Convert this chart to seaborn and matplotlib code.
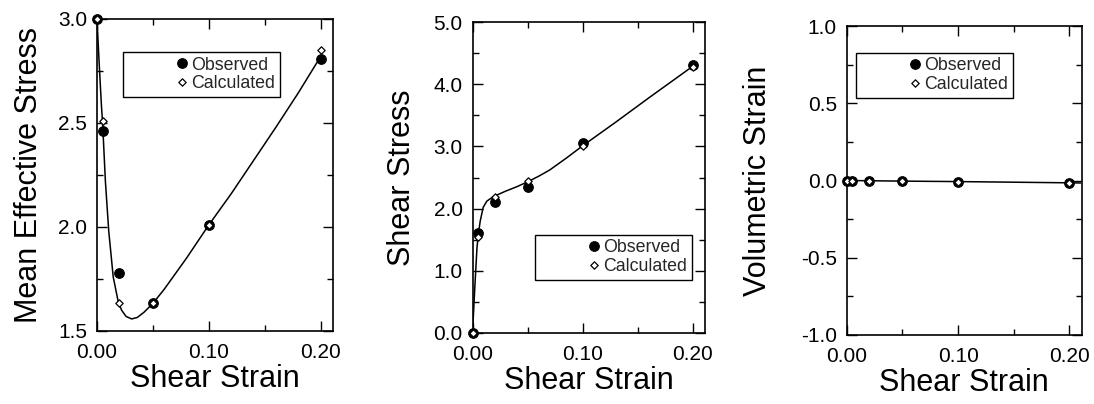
import numpy as np
import pandas as pd
import matplotlib
matplotlib.use("Agg")
import matplotlib.pyplot as plt
import seaborn as sns
from matplotlib.ticker import MultipleLocator, FormatStrFormatter

# ---------------- data ----------------
strain_pts = [0.0, 0.005, 0.02, 0.05, 0.10, 0.20]

# Panel 1: mean effective stress
p_obs = [3.00, 2.46, 1.78, 1.633, 2.01, 2.81]
p_calc = [3.00, 2.51, 1.633, 1.633, 2.01, 2.85]
p_curve_x = [0.000, 0.002, 0.004, 0.005, 0.0075, 0.0105, 0.0145, 0.019, 0.022,
             0.026, 0.031, 0.036, 0.042, 0.050, 0.060, 0.070, 0.080, 0.090,
             0.100, 0.120, 0.140, 0.160, 0.180, 0.200]
p_curve_y = [3.00, 2.78, 2.58, 2.50, 2.22, 1.98, 1.76, 1.64, 1.60,
             1.57, 1.558, 1.565, 1.59, 1.633, 1.70, 1.775, 1.85, 1.93,
             2.01, 2.16, 2.32, 2.48, 2.645, 2.82]

# Panel 2: shear stress
q_obs = [0.0, 1.60, 2.11, 2.35, 3.05, 4.31]
q_calc = [0.0, 1.55, 2.19, 2.44, 3.01, 4.28]
q_curve_x = [0.000, 0.002, 0.004, 0.005, 0.007, 0.0097, 0.013, 0.0187, 0.030,
             0.040, 0.050, 0.060, 0.070, 0.085, 0.100, 0.130, 0.160, 0.200]
q_curve_y = [0.0, 0.70, 1.35, 1.55, 1.80, 2.02, 2.12, 2.19, 2.28,
             2.35, 2.43, 2.52, 2.62, 2.81, 3.01, 3.39, 3.78, 4.29]

# Panel 3: volumetric strain
v_obs = [0.0, 0.0, -0.002, -0.004, -0.007, -0.015]
v_calc = [0.0, 0.0, -0.002, -0.004, -0.007, -0.015]
v_curve_x = [0.000, 0.050, 0.100, 0.150, 0.200, 0.210]
v_curve_y = [0.0, -0.004, -0.007, -0.011, -0.015, -0.016]

x_label = "Shear Strain"
y_labels = ["Mean Effective Stress", "Shear Stress", "Volumetric Strain"]
ylims = [(1.5, 3.0), (0.0, 5.0), (-1.0, 1.0)]
y_major = [0.5, 1.0, 0.5]
y_minor = [0.25, 0.5, 0.25]
legend_labels = ["Observed", "Calculated"]

# ---------------- style ----------------
sns.set_style("ticks")
plt.rcParams["font.family"] = ["Liberation Sans", "DejaVu Sans"]
plt.rcParams["axes.unicode_minus"] = False

fig = plt.figure(figsize=(10.94, 4.04), dpi=100)
W, H = 1094, 404
boxes = [(97, 19, 333, 331), (472.5, 22, 705, 333), (846.7, 26, 1081.7, 335)]
leg_anchor = [(0.11, 0.894), (0.269, 0.315), (0.04, 0.913)]
ylabelpads = [10, 12, 20]

panels = [
    (p_curve_x, p_curve_y, p_obs, p_calc),
    (q_curve_x, q_curve_y, q_obs, q_calc),
    (v_curve_x, v_curve_y, v_obs, v_calc),
]

for i, (cx, cy, obs, calc) in enumerate(panels):
    l, t, r, b = boxes[i]
    ax = fig.add_axes([l / W, (H - b) / H, (r - l) / W, (b - t) / H])
    curve = pd.DataFrame({"x": cx, "y": cy})
    pts = pd.DataFrame({"x": strain_pts, "obs": obs, "calc": calc})
    sns.lineplot(data=curve, x="x", y="y", ax=ax, color="black", lw=1.1,
                 sort=False, estimator=None, zorder=2)
    sns.scatterplot(data=pts, x="x", y="obs", ax=ax, marker="o", s=48,
                    color="black", edgecolor="black", linewidth=0.8,
                    label=legend_labels[0], zorder=3, clip_on=False)
    sns.scatterplot(data=pts, x="x", y="calc", ax=ax, marker="D", s=14,
                    facecolor="white", edgecolor="black", linewidth=0.9,
                    label=legend_labels[1], zorder=4, clip_on=False)

    ax.set_xlim(0.0, 0.211)
    ax.set_ylim(*ylims[i])
    ax.xaxis.set_major_locator(MultipleLocator(0.10))
    ax.xaxis.set_minor_locator(MultipleLocator(0.05))
    ax.xaxis.set_major_formatter(FormatStrFormatter("%.2f"))
    ax.yaxis.set_major_locator(MultipleLocator(y_major[i]))
    ax.yaxis.set_minor_locator(MultipleLocator(y_minor[i]))
    ax.yaxis.set_major_formatter(FormatStrFormatter("%.1f"))
    ax.tick_params(which="both", direction="in", top=True, right=True,
                   color="black", width=1.0)
    ax.tick_params(which="major", length=7, labelsize=15, pad=7,
                   labelcolor="black")
    ax.tick_params(axis="x", which="major", pad=9)
    ax.tick_params(which="minor", length=4)
    for s in ax.spines.values():
        s.set_visible(True)
        s.set_linewidth(1.2)
        s.set_color("black")
    ax.set_xlabel(x_label, fontsize=22, labelpad=1, color="black")
    ax.set_ylabel(y_labels[i], fontsize=22, labelpad=ylabelpads[i],
                  color="black")

    leg = ax.legend(loc="upper left", bbox_to_anchor=leg_anchor[i],
                    fontsize=12.8, frameon=True, fancybox=False,
                    edgecolor="black", framealpha=1, borderpad=0.25,
                    labelspacing=0.1, handlelength=6.1,
                    handletextpad=-2.5, scatterpoints=1,
                    scatteryoffsets=[0.5], borderaxespad=0)
    leg.get_frame().set_linewidth(1.0)

fig.savefig("out.png", dpi=100)
